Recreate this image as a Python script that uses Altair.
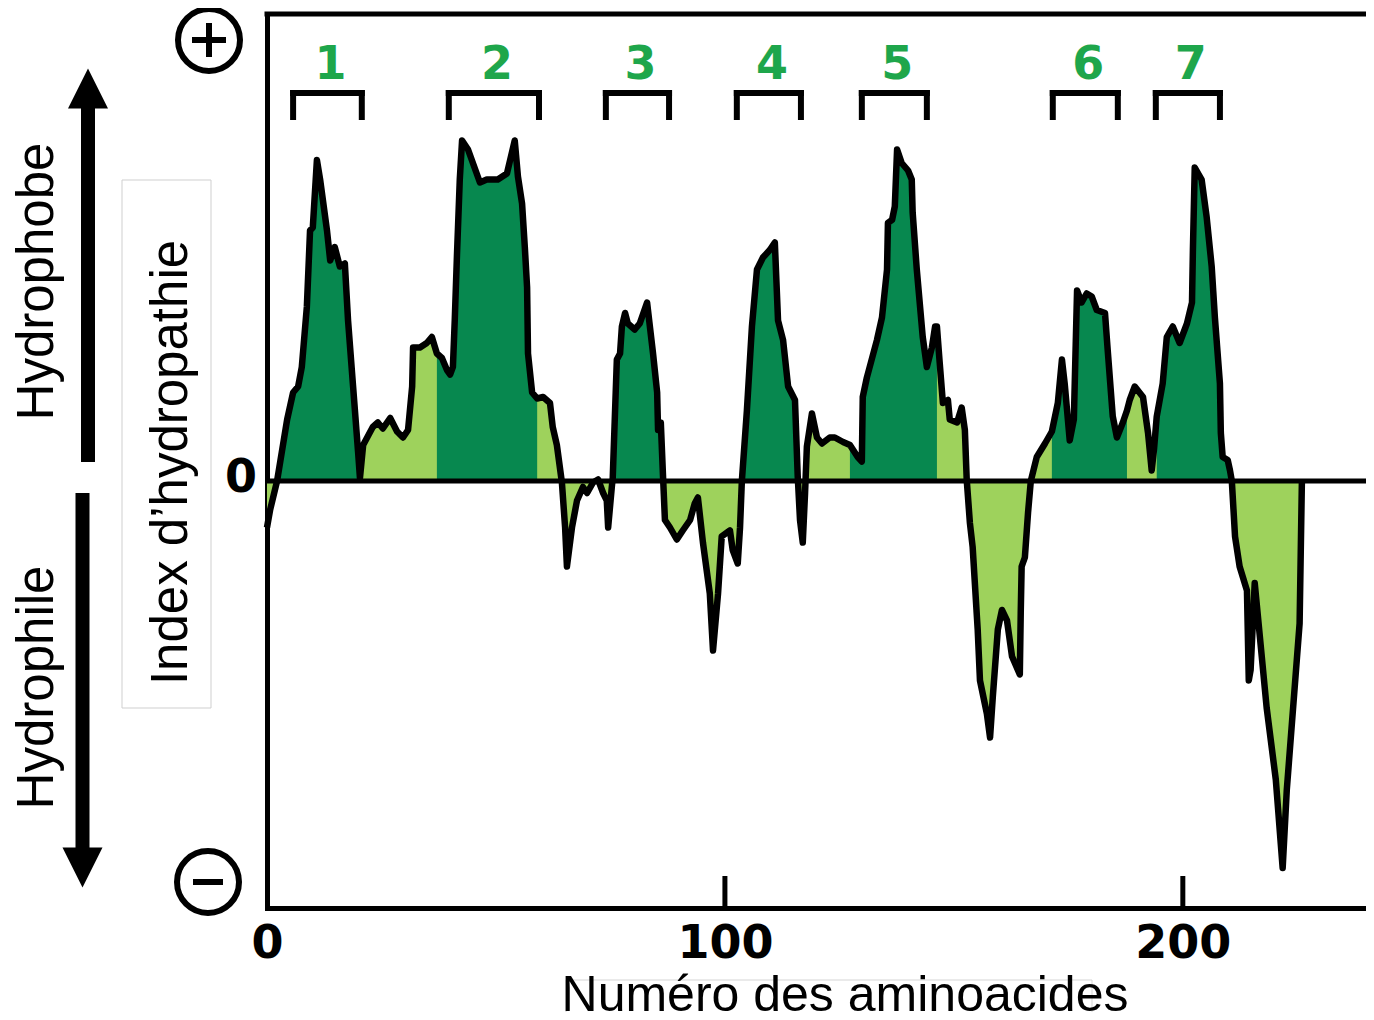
import altair as alt
import pandas as pd

# ---------------- data ----------------
RESIDUE = [
    0, 0.7, 2.2, 4.4, 5.7, 6.8, 7.6, 8.7, 9.4, 10.0, 10.9, 11.6, 13.1, 13.8, 14.8, 15.9, 17.0, 17.7, 18.8, 19.9, 20.3,
    21.0, 23.1, 24.2, 25.3, 26.9, 28.4, 29.7, 30.8, 31.7, 31.9, 33.4, 34.9, 36.0,
    37.1, 38.2, 39.3, 40.0, 40.6, 41.0, 41.5, 42.1, 42.6, 43.9, 46.5, 48.0, 50.4, 52.4, 54.1, 54.8, 55.7, 56.3, 56.8, 57.0, 57.9, 59.0,
    60.3, 61.8, 62.4, 63.3, 64.4, 65.1, 65.5, 66.6, 67.7, 69.0, 69.9, 71.2, 72.3, 73.4, 74.2, 74.5, 75.3,
    75.5, 76.4, 77.1, 77.5, 78.2, 78.8, 80.3, 81.4, 83.0, 84.3, 85.2, 85.4, 86.0, 86.5,
    86.9, 88.0, 89.5, 90.8, 92.4, 93.4, 94.1, 95.2, 96.7, 97.4, 98.5, 99.3, 101.1, 101.7, 102.8, 103.3,
    103.7, 104.8, 105.9, 107.0, 108.3, 109.8, 110.9, 111.6, 112.7, 113.8, 115.3, 115.9,
    116.4, 117.0, 117.5, 117.9, 119.0, 120.1, 121.2, 122.9, 124.0, 125.8,
    127.3, 129.0, 129.9, 130.1, 131.0, 133.2, 134.3, 135.4, 135.6, 136.5, 137.1, 137.6, 138.6, 140.0, 140.8, 141.0, 141.9, 143.2, 144.1, 145.2, 145.9, 146.3,
    146.9, 147.6, 148.7, 149.1, 150.7, 151.7, 152.4, 152.8, 153.5, 154.1, 155.2, 155.7, 157.2, 157.9, 158.5, 159.6, 160.5, 161.6, 162.7, 164.4, 164.6, 164.8, 165.5, 166.2, 166.8, 168.1, 169.9,
    171.4, 172.7, 173.6, 174.2, 175.3, 176.2, 176.9, 177.9, 179.0, 180.1, 181.2, 183.0, 183.6, 184.7, 185.6, 186.9, 187.8,
    188.4, 189.5, 191.3, 192.4, 193.2, 193.7,
    194.3, 195.6, 196.5, 197.8, 199.3, 200.9, 202.0, 202.2, 202.6, 204.1, 205.2, 206.3, 207.0, 208.1, 208.3, 208.7, 209.8, 210.3,
    210.7, 211.4, 212.4, 214.0, 214.4, 214.8, 215.7, 218.3, 220.3, 221.8, 222.7, 225.5, 226.0,
]
HYDROPATHY = [
    -0.31, -0.19, 0.00, 0.41, 0.59, 0.63, 0.76, 1.16, 1.67, 1.69, 2.14, 2.01, 1.67, 1.47, 1.56, 1.43, 1.45, 1.07, 0.63, 0.19, 0.02,
    0.24, 0.36, 0.39, 0.35, 0.42, 0.33, 0.29, 0.34, 0.63, 0.89, 0.89, 0.92, 0.96,
    0.85, 0.82, 0.74, 0.71, 0.76, 1.07, 1.52, 2.01, 2.27, 2.21, 1.99, 2.01, 2.01, 2.05, 2.27, 2.03, 1.85, 1.56, 1.29, 0.85, 0.59, 0.55,
    0.56, 0.52, 0.36, 0.24, -0.01, -0.31, -0.57, -0.31, -0.13, -0.04, -0.08, -0.01, 0.01, -0.08, -0.13, -0.31, -0.04,
    0.02, 0.81, 0.85, 1.03, 1.12, 1.05, 1.01, 1.05, 1.19, 0.85, 0.59, 0.34, 0.39, 0.02,
    -0.26, -0.31, -0.39, -0.33, -0.26, -0.15, -0.11, -0.41, -0.75, -1.13, -0.75, -0.37, -0.33, -0.46, -0.55, -0.31,
    0.00, 0.47, 1.03, 1.41, 1.49, 1.54, 1.59, 1.07, 0.94, 0.63, 0.54, 0.03,
    -0.26, -0.41, -0.08, 0.23, 0.45, 0.29, 0.25, 0.29, 0.29, 0.26,
    0.24, 0.16, 0.13, 0.56, 0.69, 0.94, 1.09, 1.41, 1.72, 1.74, 1.83, 2.21, 2.12, 2.07, 2.01, 1.79, 1.41, 0.96, 0.76, 0.89, 1.03, 1.03,
    0.79, 0.52, 0.54, 0.41, 0.39, 0.49, 0.34, 0.01, -0.28, -0.44, -0.99, -1.33, -1.55, -1.71, -1.44, -0.99, -0.86, -0.93, -1.17, -1.29, -0.88, -0.57, -0.51, -0.21, 0.00, 0.16, 0.25,
    0.33, 0.52, 0.81, 0.65, 0.27, 0.41, 1.27, 1.19, 1.25, 1.23, 1.14, 1.12, 0.87, 0.43, 0.29, 0.39, 0.47,
    0.54, 0.63, 0.56, 0.32, 0.07, 0.21,
    0.43, 0.65, 0.96, 1.03, 0.92, 1.05, 1.19, 1.54, 2.09, 2.01, 1.76, 1.43, 1.09, 0.65, 0.32, 0.16, 0.14, 0.07,
    0.00, -0.37, -0.57, -0.73, -1.33, -1.26, -0.68, -1.51, -1.99, -2.58, -2.06, -0.95, 0.00,
]
assert len(RESIDUE) == len(HYDROPATHY)

# hydrophobic (transmembrane) stretches, dark fill
TM_FROM = [2.2, 37.1, 75.5, 103.7, 127.3, 171.4, 194.3]
TM_TO = [20.3, 59.0, 86.5, 115.9, 146.3, 187.8, 210.3]

# numbered brackets above the plot
HELIX_LABELS = ["1", "2", "3", "4", "5", "6", "7"]
HELIX_START = [5.7, 39.7, 74.0, 102.6, 129.9, 171.6, 194.1]
HELIX_END = [20.7, 59.4, 87.8, 116.6, 144.1, 185.8, 208.1]

X_TICKS = [0, 100, 200]
X_DOMAIN = [0, 240]
Y_DOMAIN = [-2.8467, 3.1133]

# ---------------- styling ----------------
W, H = 1099, 894
DARK = "#07884F"
LIGHT = "#9ED25C"
GREEN_TXT = "#1EA64B"
BOLD_FONT = "DejaVu Sans"
TEXT_FONT = "Liberation Sans"

profile = pd.DataFrame({"residue": RESIDUE, "hyd": HYDROPATHY})
helices = pd.DataFrame({"label": HELIX_LABELS, "start": HELIX_START, "end": HELIX_END})
ticks = pd.DataFrame({"t": X_TICKS})
one = pd.DataFrame({"k": [0]})

xs = alt.Scale(domain=X_DOMAIN, nice=False, zero=False)
ys = alt.Scale(domain=Y_DOMAIN, nice=False, zero=False)

x_axis = alt.Axis(values=X_TICKS, format="d", labelFont=BOLD_FONT, labelFontWeight="bold",
                  labelFontSize=46, labelColor="black", ticks=False, labelPadding=13,
                  domain=True, domainColor="black", domainWidth=5, domainCap="square",
                  grid=False, title=None, labelFlush=False, labelOverlap=False, labelBound=False)
y_axis = alt.Axis(domain=True, domainColor="black", domainWidth=5, domainCap="square",
                  labels=False, ticks=False, grid=False, title=None)

base = alt.Chart(profile)

light_area = base.mark_area(color=LIGHT, interpolate="linear").encode(
    x=alt.X("residue:Q", scale=xs, axis=x_axis),
    y=alt.Y("hyd:Q", scale=ys, axis=y_axis),
    y2=alt.datum(0),
)

dark_layers = []
for a, b in zip(TM_FROM, TM_TO):
    dark_layers.append(
        base.transform_filter(alt.FieldRangePredicate(field="residue", range=[a, b]))
        .mark_area(color=DARK, interpolate="linear")
        .encode(x=alt.X("residue:Q", scale=xs), y=alt.Y("hyd:Q", scale=ys), y2=alt.datum(0))
    )

zero_line = alt.Chart(one).mark_rule(color="black", strokeWidth=5).encode(
    x=alt.value(0), x2=alt.value(W), y=alt.datum(0)
)

profile_line = base.mark_line(color="black", strokeWidth=6.5, strokeJoin="round", interpolate="linear").encode(
    x=alt.X("residue:Q", scale=xs), y=alt.Y("hyd:Q", scale=ys)
)

top_line = alt.Chart(one).mark_rule(color="black", strokeWidth=5, strokeCap="square").encode(
    x=alt.value(0), x2=alt.value(W), y=alt.value(0)
)

inner_ticks = alt.Chart(ticks).transform_filter("datum.t > 0").mark_rule(color="black", strokeWidth=5).encode(
    x=alt.X("t:Q", scale=xs), y=alt.value(H), y2=alt.value(H - 32)
)

bracket_top = alt.Chart(helices).mark_rule(color="black", strokeWidth=6, strokeCap="square").encode(
    x=alt.X("start:Q", scale=xs), x2="end:Q", y=alt.value(79)
)
bracket_left = alt.Chart(helices).mark_rule(color="black", strokeWidth=6, strokeCap="square").encode(
    x=alt.X("start:Q", scale=xs), y=alt.value(79), y2=alt.value(103)
)
bracket_right = alt.Chart(helices).mark_rule(color="black", strokeWidth=6, strokeCap="square").encode(
    x=alt.X("end:Q", scale=xs), y=alt.value(79), y2=alt.value(103)
)
bracket_labels = alt.Chart(helices).transform_calculate(mid="(datum.start + datum.end) / 2").mark_text(
    font=BOLD_FONT, fontWeight="bold", fontSize=46, color=GREEN_TXT, align="center", baseline="middle", dx=3
).encode(x=alt.X("mid:Q", scale=xs), y=alt.value(51), text="label:N")

zero_label = alt.Chart(one).mark_text(
    font=BOLD_FONT, fontWeight="bold", fontSize=46, color="black", align="center", baseline="middle", dy=-3
).encode(x=alt.value(-26), y=alt.datum(0), text=alt.value("0"))

# plus / minus symbols
plus_circle = alt.Chart(one).mark_point(shape="circle", filled=False, size=3844, strokeWidth=6,
                                        color="black", opacity=1).encode(x=alt.value(-58), y=alt.value(26))
plus_h = alt.Chart(one).mark_rule(color="black", strokeWidth=6).encode(
    x=alt.value(-75), x2=alt.value(-41), y=alt.value(26))
plus_v = alt.Chart(one).mark_rule(color="black", strokeWidth=6).encode(
    x=alt.value(-58), y=alt.value(9), y2=alt.value(43))
minus_circle = alt.Chart(one).mark_point(shape="circle", filled=False, size=3844, strokeWidth=6,
                                         color="black", opacity=1).encode(x=alt.value(-59), y=alt.value(868))
minus_h = alt.Chart(one).mark_rule(color="black", strokeWidth=6).encode(
    x=alt.value(-74), x2=alt.value(-44), y=alt.value(868))

# arrows
up_shaft = alt.Chart(one).mark_rule(color="black", strokeWidth=14).encode(
    x=alt.value(-179), y=alt.value(92), y2=alt.value(448))
up_head = alt.Chart(one).mark_point(shape="M0,-1L1,1L-1,1Z", filled=True, size=1600, color="black",
                                    opacity=1).encode(x=alt.value(-179), y=alt.value(74.5))
down_shaft = alt.Chart(one).mark_rule(color="black", strokeWidth=14).encode(
    x=alt.value(-184.5), y=alt.value(479), y2=alt.value(838))
down_head = alt.Chart(one).mark_point(shape="M0,1L1,-1L-1,-1Z", filled=True, size=1600, color="black",
                                      opacity=1).encode(x=alt.value(-184.5), y=alt.value(853.5))

# texts
def vtext(label, x, y):
    return alt.Chart(one).mark_text(font=TEXT_FONT, fontSize=51, color="black", angle=270,
                                    align="center", baseline="middle").encode(
        x=alt.value(x), y=alt.value(y), text=alt.value(label))

t_phobe = vtext("Hydrophobe", -229, 267.5)
t_phile = vtext("Hydrophile", -229, 673.5)
t_index = vtext("Index d\u2019hydropathie", -95, 448.5)

index_box = alt.Chart(one).mark_rect(fillOpacity=0, stroke="#cfcfcf", strokeWidth=1).encode(
    x=alt.value(-145), x2=alt.value(-56), y=alt.value(166), y2=alt.value(694))

x_title = alt.Chart(one).mark_text(font=TEXT_FONT, fontSize=50, color="black", align="center",
                                   baseline="alphabetic").encode(
    x=alt.value(578), y=alt.value(997), text=alt.value("Numéro des aminoacides"))
x_title_box = alt.Chart(one).mark_rect(fillOpacity=0, stroke="#d5d5d5", strokeWidth=1).encode(
    x=alt.value(299), x2=alt.value(825), y=alt.value(966), y2=alt.value(1010))

chart = alt.layer(
    light_area, *dark_layers, zero_line, profile_line, top_line, inner_ticks,
    bracket_top, bracket_left, bracket_right, bracket_labels, zero_label,
    plus_circle, plus_h, plus_v, minus_circle, minus_h,
    up_shaft, up_head, down_shaft, down_head,
    index_box, t_phobe, t_phile, t_index, x_title_box, x_title,
).properties(
    width=W, height=H,
    padding={"left": 259, "top": 6, "right": 0, "bottom": 104},
    autosize=alt.AutoSizeParams(type="none"),
    background="white",
).configure_view(stroke=None)

chart.save("out.html", embed_options={"renderer": "svg", "actions": False})
